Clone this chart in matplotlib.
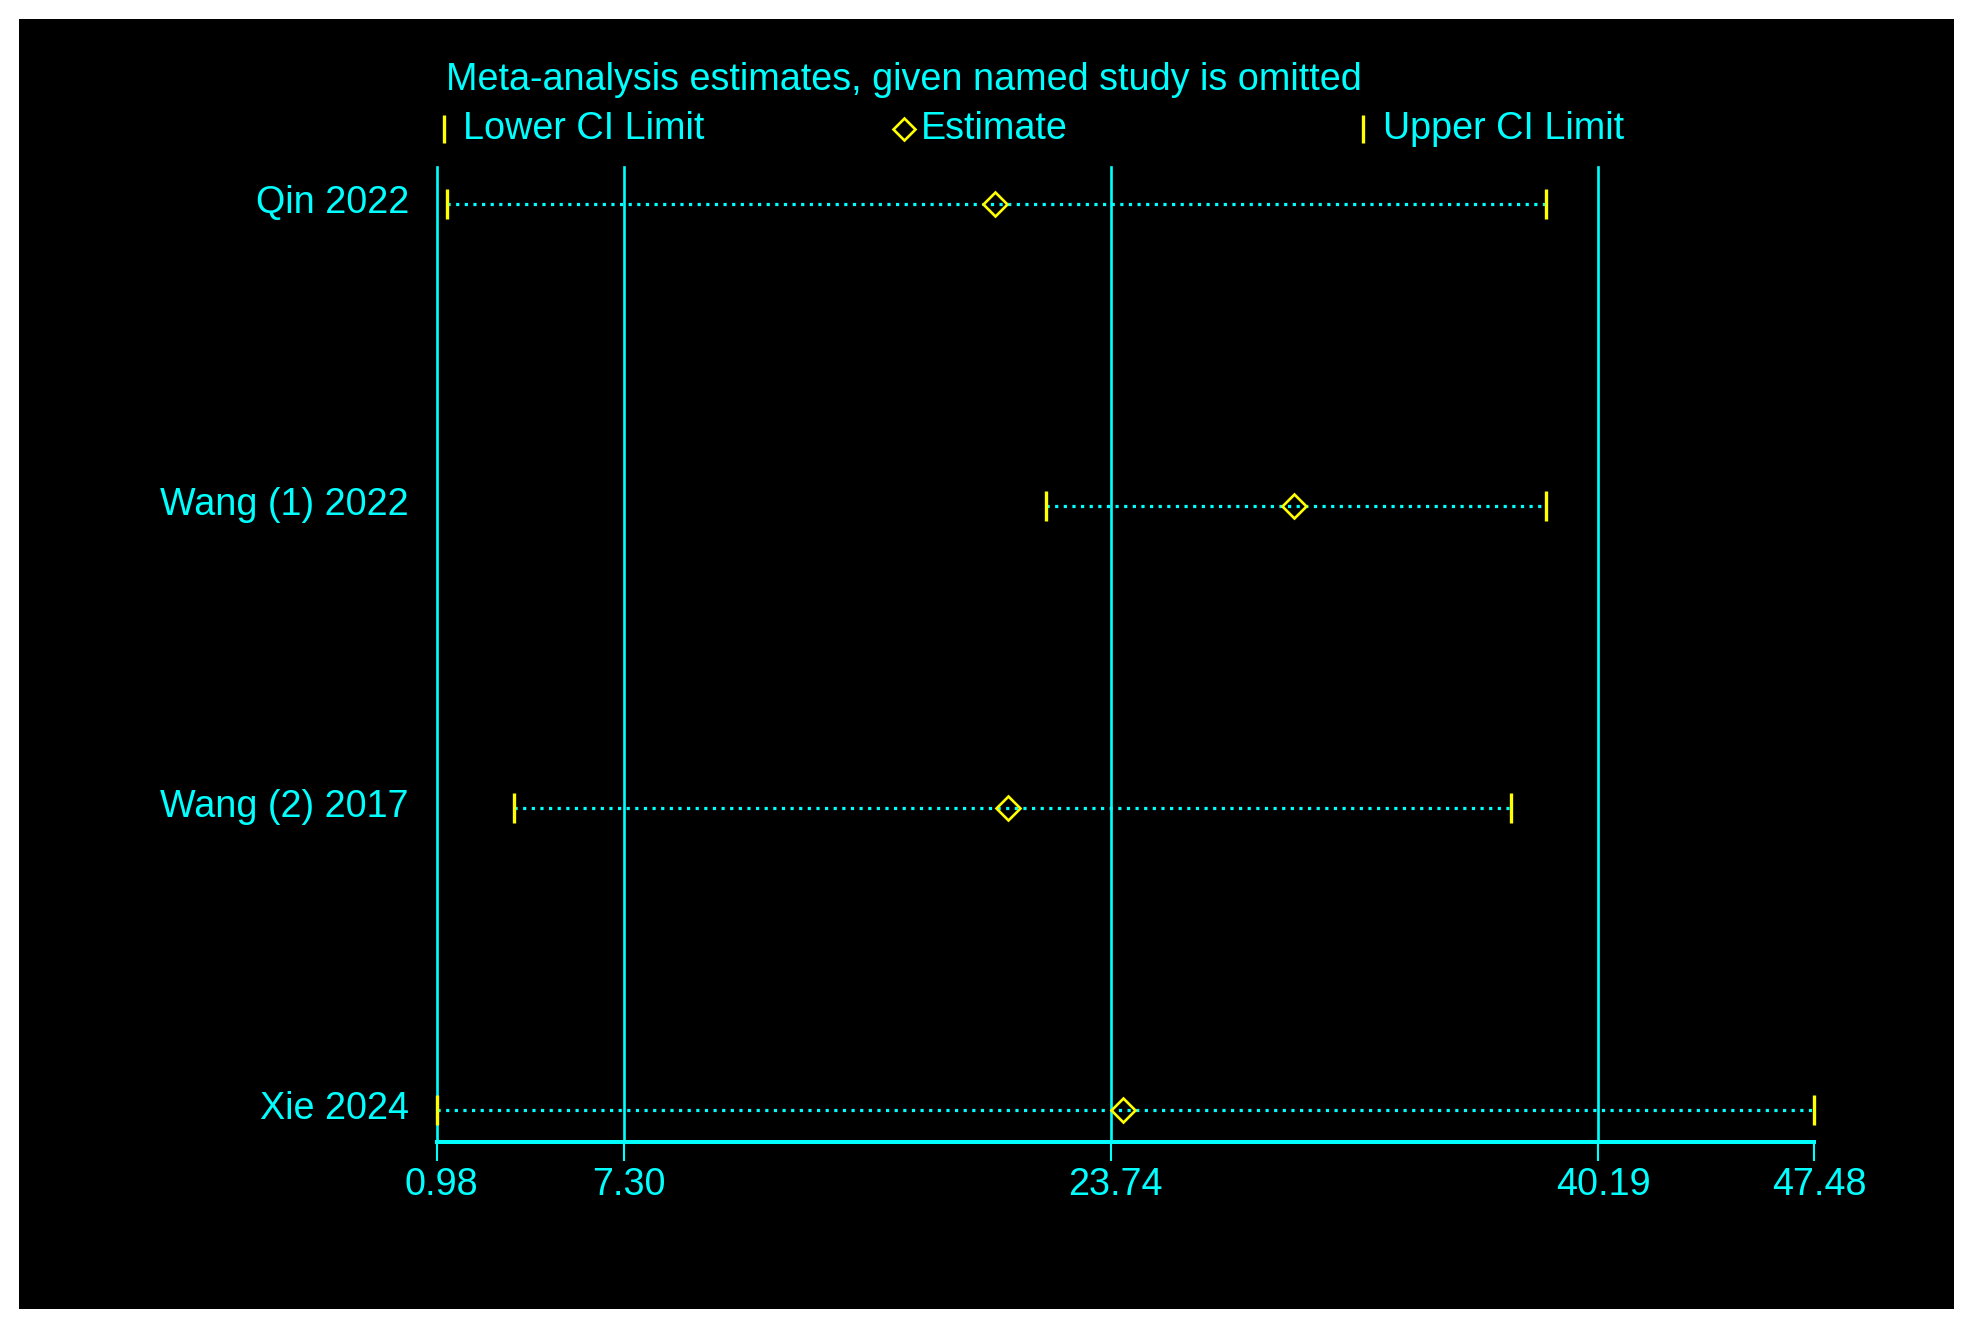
#!/usr/bin/env python3
"""
Leave-one-out sensitivity plot: meta-analysis estimate and CI when each
named study is omitted. Dark-screen style (cyan on black).
"""
import matplotlib
matplotlib.use("Agg")
import matplotlib.pyplot as plt
import matplotlib.transforms as mtransforms
from matplotlib.lines import Line2D
from matplotlib.patches import Rectangle

STUDIES = ["Qin 2022", "Wang (1) 2022", "Wang (2) 2017", "Xie 2024"]
LOWER = [1.32, 21.55, 3.60, 0.98]
ESTIMATE = [19.85, 29.94, 20.27, 24.14]
UPPER = [38.44, 38.44, 37.25, 47.48]

GRID_VALUES = [0.98, 7.30, 23.74, 40.19]
TICK_VALUES = [0.98, 7.30, 23.74, 40.19, 47.48]
TICK_LABELS = ["0.98", "7.30", "23.74", "40.19", "47.48"]

TITLE = "Meta-analysis estimates, given named study is omitted"
LEGEND_LABELS = ["Lower CI Limit", "Estimate", "Upper CI Limit"]

CYAN = "#00FFFF"
YELLOW = "#FFFF00"
W, H = 1973, 1326
FS = 27.2
DIAMOND_MS = 12.2

plt.rcParams["font.family"] = ["Liberation Sans", "DejaVu Sans"]


def fx(px):
    return px / W


def fy(py):
    return 1 - py / H


def main() -> None:
    fig = plt.figure(figsize=(W / 100, H / 100), dpi=100, facecolor="white")
    fig.add_artist(Rectangle((fx(19), fy(1309)), (1954 - 19) / W, (1309 - 19) / H,
                             transform=fig.transFigure, facecolor="black",
                             edgecolor="none", zorder=0))

    ax = fig.add_axes([fx(436.5), fy(1141.5), (1814 - 436.5) / W,
                       (1141.5 - 167) / H])
    ax.patch.set_visible(False)
    n = len(STUDIES)
    ax.set_xlim(TICK_VALUES[0], TICK_VALUES[-1])
    ax.set_ylim(n - 1 + 0.104, -0.1225)

    for side in ("left", "top", "right"):
        ax.spines[side].set_visible(False)
    ax.spines["bottom"].set_color(CYAN)
    ax.spines["bottom"].set_linewidth(2.9)

    ax.set_yticks([])
    ax.set_xticks(TICK_VALUES)
    ax.set_xticklabels(TICK_LABELS)
    ax.tick_params(axis="x", length=13.7, width=1.5, color=CYAN,
                   labelcolor=CYAN, labelsize=FS, pad=5.0, direction="out")
    # labels sit a few pixels right of their ticks in the original
    shift = mtransforms.ScaledTranslation(0.05, 0, fig.dpi_scale_trans)
    for lab in ax.get_xticklabels():
        lab.set_transform(lab.get_transform() + shift)

    for v in GRID_VALUES:
        ax.axvline(v, color=CYAN, lw=1.9, clip_on=False, zorder=1)

    label_tr = mtransforms.offset_copy(
        mtransforms.blended_transform_factory(fig.transFigure, ax.transData),
        fig=fig, x=0, y=-9, units="dots")

    for i, name in enumerate(STUDIES):
        ax.plot([LOWER[i], UPPER[i]], [i, i], color=CYAN, lw=2.3,
                ls=(0, (1, 1.7)), dash_capstyle="butt", zorder=2)
        ax.plot([LOWER[i], UPPER[i]], [i, i], ls="none", marker="|",
                ms=20.9, mew=2.4, color=YELLOW, clip_on=False, zorder=3)
        ax.plot(ESTIMATE[i], i, ls="none", marker="D", ms=DIAMOND_MS,
                mfc="none", mec=YELLOW, mew=1.9, zorder=4)
        ax.text(fx(409), i, name, transform=label_tr, ha="right",
                va="baseline", color=CYAN, fontsize=FS)

    # title and legend row
    fig.text(fx(446), fy(90), TITLE, ha="left", va="baseline",
             color=CYAN, fontsize=FS)
    legend_items = [(444, "|", LEGEND_LABELS[0], 463),
                    (903.6, "D", LEGEND_LABELS[1], 921),
                    (1363, "|", LEGEND_LABELS[2], 1383)]
    for mx, mk, text, tx in legend_items:
        if mk == "|":
            fig.add_artist(Line2D([fx(mx)], [fy(129)], transform=fig.transFigure,
                                  ls="none", marker="|", ms=20.2, mew=2.4,
                                  color=YELLOW))
        else:
            fig.add_artist(Line2D([fx(mx)], [fy(128.5)], transform=fig.transFigure,
                                  ls="none", marker="D", ms=DIAMOND_MS * 0.95,
                                  mfc="none", mec=YELLOW, mew=1.9))
        fig.text(fx(tx), fy(139), text, ha="left", va="baseline",
                 color=CYAN, fontsize=FS)

    fig.savefig("out.png", dpi=100, facecolor="white")
    plt.close(fig)


if __name__ == "__main__":
    main()
